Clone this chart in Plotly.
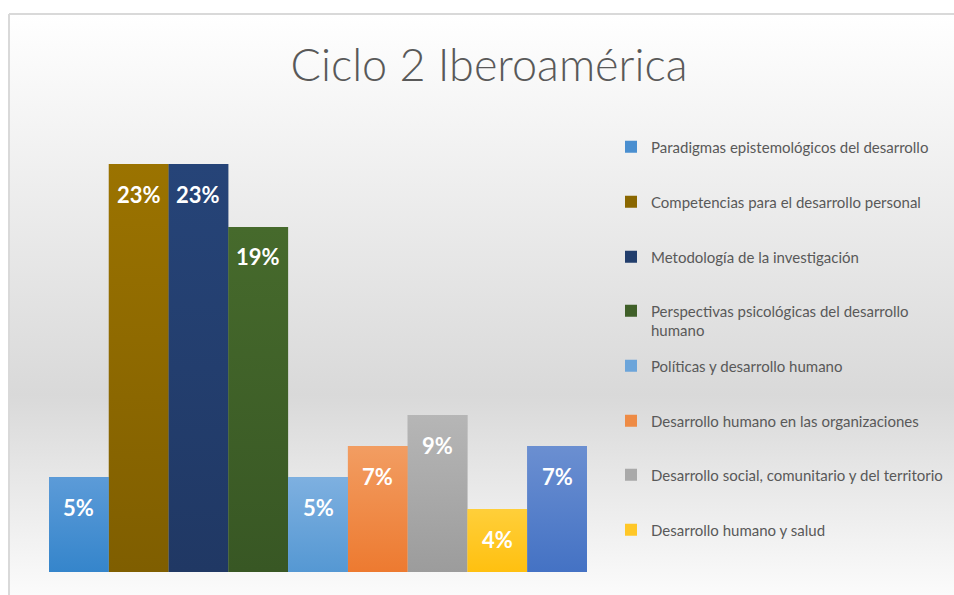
import base64
import plotly.graph_objects as go

# ---- data ----
categories = [
    "Paradigmas epistemológicos del desarrollo",
    "Competencias para el desarrollo personal",
    "Metodología de la investigación",
    "Perspectivas psicológicas del desarrollo<br>humano",
    "Políticas y desarrollo humano",
    "Desarrollo humano en las organizaciones",
    "Desarrollo social, comunitario y del territorio",
    "Desarrollo humano y salud",
    "Otro",
]
values = [5.35, 23.0, 23.0, 19.45, 5.35, 7.1, 8.85, 3.55, 7.1]
labels = ["5%", "23%", "23%", "19%", "5%", "7%", "9%", "4%", "7%"]
colors = ["#4a8fd0", "#8a6700", "#223e6c", "#3f5f28", "#6ca5da",
          "#ee8b45", "#a9a9a9", "#ffc727", "#5a81cb"]
top_colors = ["#5c9bd8", "#9b7300", "#264478", "#466a2c", "#7eb0e0",
              "#f29d62", "#b6b6b6", "#ffcf3a", "#6b8fd1"]
bottom_colors = ["#3585cb", "#7f5e00", "#203864", "#385724", "#5598d3",
                 "#ed7a30", "#9c9c9c", "#ffc010", "#4472c4"]
in_legend = [True, True, True, True, True, True, True, True, False]

# ---- layout geometry (body margin removed via post_script) ----
SW, SH = 954, 595
W, H = SW, SH
L, R, T, B = 49, 954 - 587, 150, 595 - 572
pw, ph = W - L - R, H - T - B


def px_x(sx):
    return (sx - L) / pw


def px_y(sy):
    return (H - B - sy) / ph


def grad_src(c_top, c_bottom, stops=None):
    if stops is None:
        stops = [(0, c_top), (1, c_bottom)]
    st = "".join(f'<stop offset="{o}" stop-color="{c}"/>' for o, c in stops)
    svg = ('<svg xmlns="http://www.w3.org/2000/svg" width="100" height="100" '
           'preserveAspectRatio="none"><defs><linearGradient id="g" x1="0" y1="0" '
           f'x2="0" y2="1">{st}</linearGradient></defs>'
           '<rect width="100" height="100" fill="url(#g)"/></svg>')
    return "data:image/svg+xml;base64," + base64.b64encode(svg.encode()).decode()


legend_y_px = [147, 202, 257, 320.5, 366, 421, 475, 530]
legend_x_px = 611

fig = go.Figure()
legend_names = ["legend"] + [f"legend{i}" for i in range(2, 9)]
images = []
li = 0
for i, (cat, v, c, show) in enumerate(zip(categories, values, colors, in_legend)):
    kw = {}
    if show:
        kw["legend"] = legend_names[li]
        li += 1
    fig.add_trace(go.Bar(
        x=[cat], y=[v], width=1.0, name=cat,
        marker=dict(color=c, line=dict(width=0)),
        showlegend=show, hoverinfo="name+y", **kw,
    ))
    # vertical gradient fill for the bar, placed through the data axes
    images.append(dict(
        source=grad_src(top_colors[i], bottom_colors[i]),
        xref="x", yref="y", x=i, y=v, sizex=1.0, sizey=v,
        xanchor="center", yanchor="top", sizing="stretch", layer="above",
    ))
    fig.add_annotation(
        x=cat, y=v, xref="x", yref="y", text=labels[i], showarrow=False,
        yanchor="middle", yshift=-30,
        font=dict(family="Lato", size=22, color="white", weight="bold"),
    )

legend_layout = {}
for k, name in enumerate(legend_names):
    legend_layout[name] = dict(
        x=px_x(legend_x_px), y=px_y(legend_y_px[k]),
        xanchor="left", yanchor="middle",
        bgcolor="rgba(0,0,0,0)", borderwidth=0,
        font=dict(family="Lato", size=15, color="#595959"),
        itemwidth=30, valign="top",
    )

# gradient background of the chart area
frame_l, frame_t = 9, 14
images.insert(0, dict(
    source=grad_src(None, None, [(0, "#ffffff"), (0.65, "#d9d9d9"), (1, "#fcfcfc")]),
    xref="paper", yref="paper",
    x=px_x(frame_l), y=px_y(frame_t),
    sizex=px_x(SW + 5) - px_x(frame_l), sizey=px_y(frame_t) - px_y(SH + 5),
    xanchor="left", yanchor="top", sizing="stretch", layer="below"))

fig.update_layout(
    width=W, height=H,
    margin=dict(l=L, r=R, t=T, b=B, autoexpand=False),
    paper_bgcolor="white", plot_bgcolor="rgba(0,0,0,0)",
    barmode="overlay",
    title=dict(text="Ciclo 2 Iberoamérica", x=489 / W, y=1 - 65 / H,
               xref="container", yref="container",
               xanchor="center", yanchor="middle",
               font=dict(family="Lato", size=45, color="#595959", weight=300)),
    xaxis=dict(type="category", categoryorder="array", categoryarray=categories,
               range=[-0.5, len(categories) - 0.5], showticklabels=False,
               showgrid=False, zeroline=False, showline=False, ticks=""),
    yaxis=dict(range=[0, 23.0 * ph / 408], showticklabels=False, showgrid=False,
               zeroline=False, showline=False, ticks=""),
    images=images,
    shapes=[
        dict(type="line", xref="paper", yref="paper",
             x0=px_x(frame_l), x1=px_x(SW + 5), y0=px_y(frame_t), y1=px_y(frame_t),
             line=dict(color="#d9d9d9", width=2), layer="below"),
        dict(type="line", xref="paper", yref="paper",
             x0=px_x(frame_l), x1=px_x(frame_l), y0=px_y(frame_t), y1=px_y(SH + 5),
             line=dict(color="#d9d9d9", width=2), layer="below"),
    ],
    **legend_layout,
)

fig.write_html(
    "out.html",
    config={"displayModeBar": False},
    post_script="document.body.style.margin='0';document.body.style.overflow='hidden';",
)
